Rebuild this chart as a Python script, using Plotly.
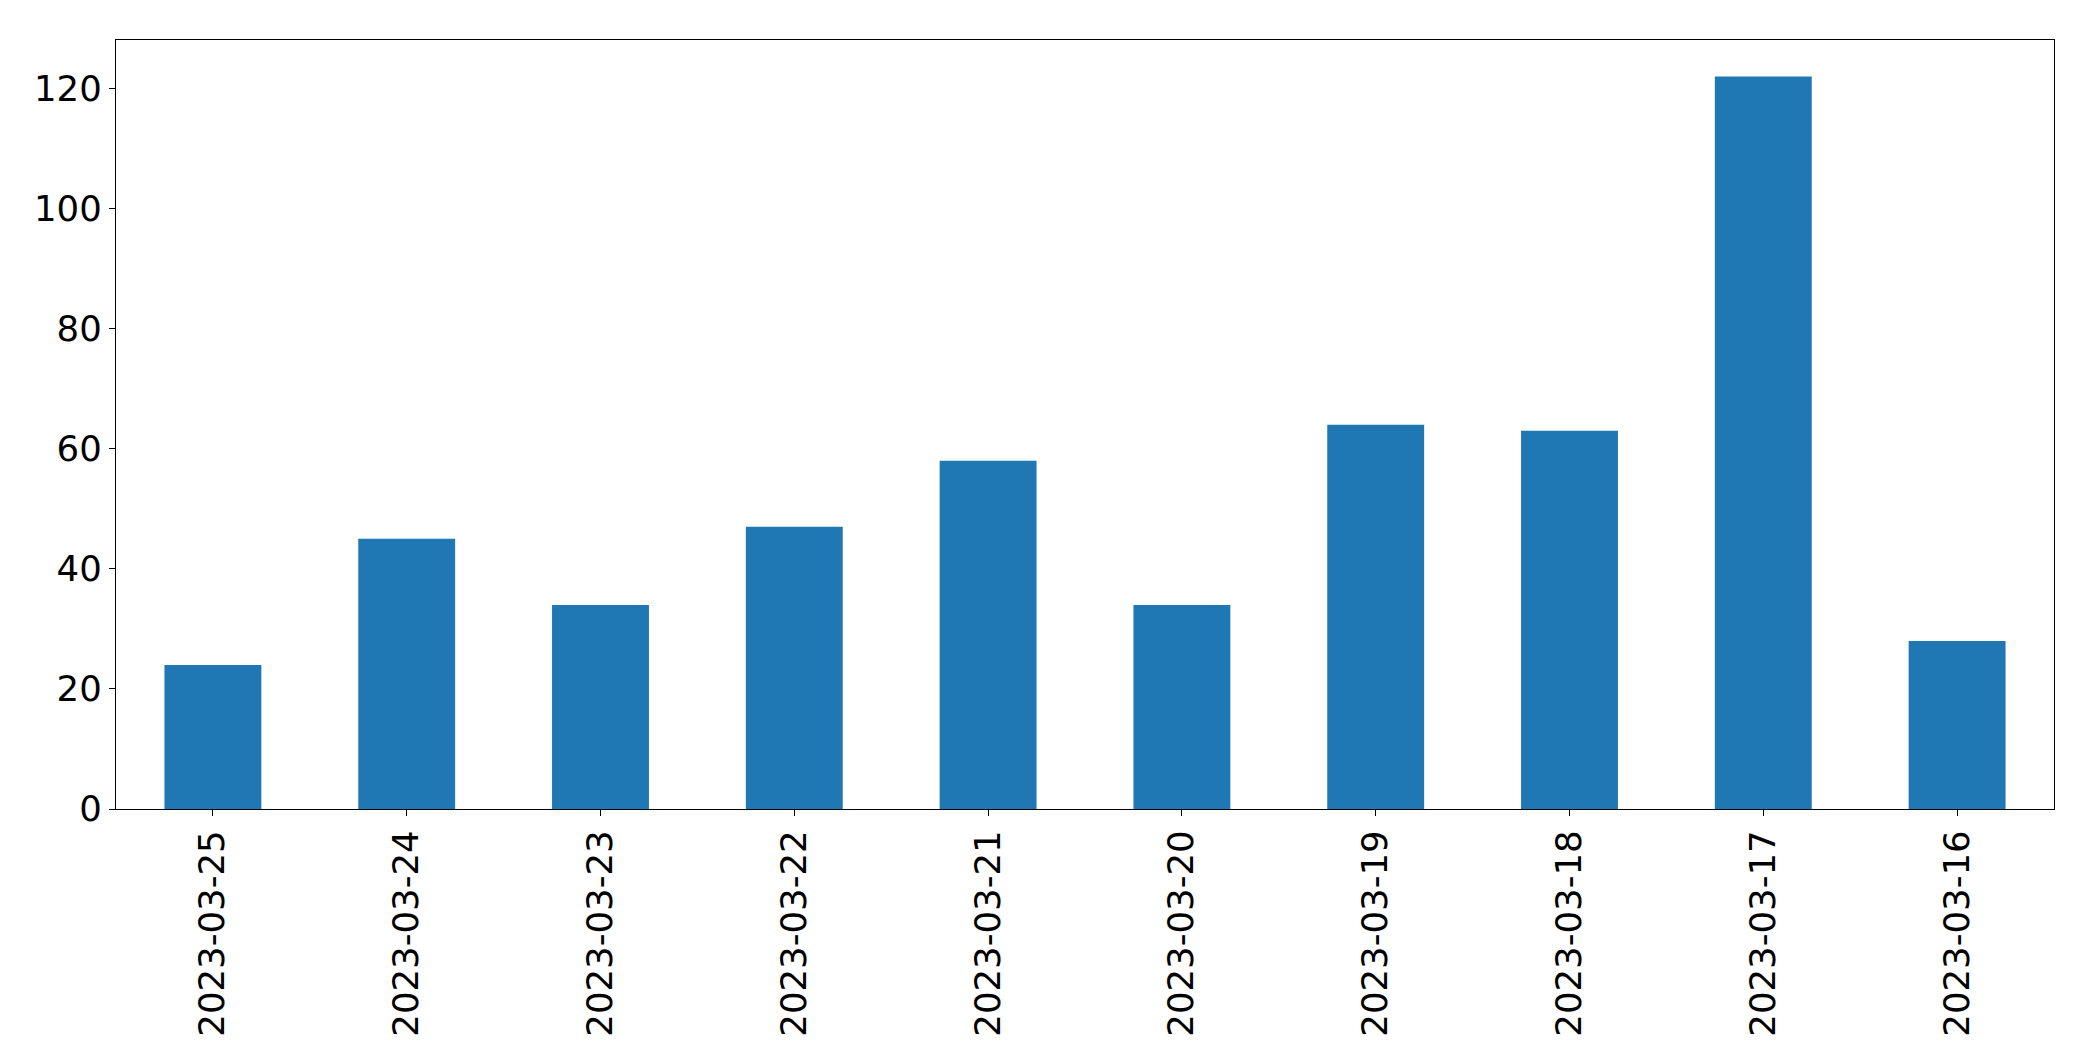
import plotly.graph_objects as go

dates = ["2023-03-25", "2023-03-24", "2023-03-23", "2023-03-22", "2023-03-21",
         "2023-03-20", "2023-03-19", "2023-03-18", "2023-03-17", "2023-03-16"]
counts = [24, 45, 34, 47, 58, 34, 64, 63, 122, 28]
y_ticks = [0, 20, 40, 60, 80, 100, 120]

fig = go.Figure(go.Bar(x=dates, y=counts, marker=dict(color="#1f77b4", line=dict(width=0))))

font = dict(family="DejaVu Sans", size=35.5, color="black")
fig.update_layout(
    width=2093, height=1061,
    margin=dict(l=108, r=47, t=32, b=260),
    paper_bgcolor="white", plot_bgcolor="white",
    bargap=0.5, showlegend=False, font=font,
)
fig.update_xaxes(
    type="category", range=[-0.5, 9.5], tickangle=-90,
    showline=True, linecolor="black", linewidth=1.3, mirror=True,
    ticks="outside", ticklen=6, tickwidth=1.3, tickcolor="black",
    showgrid=False, zeroline=False, tickfont=font,
)
fig.update_yaxes(
    range=[0, 128.1], tickvals=y_ticks,
    showline=True, linecolor="black", linewidth=1.3, mirror=True,
    ticks="outside", ticklen=6, tickwidth=1.3, tickcolor="black",
    showgrid=False, zeroline=False, tickfont=font,
)
fig.write_html("out.html")
